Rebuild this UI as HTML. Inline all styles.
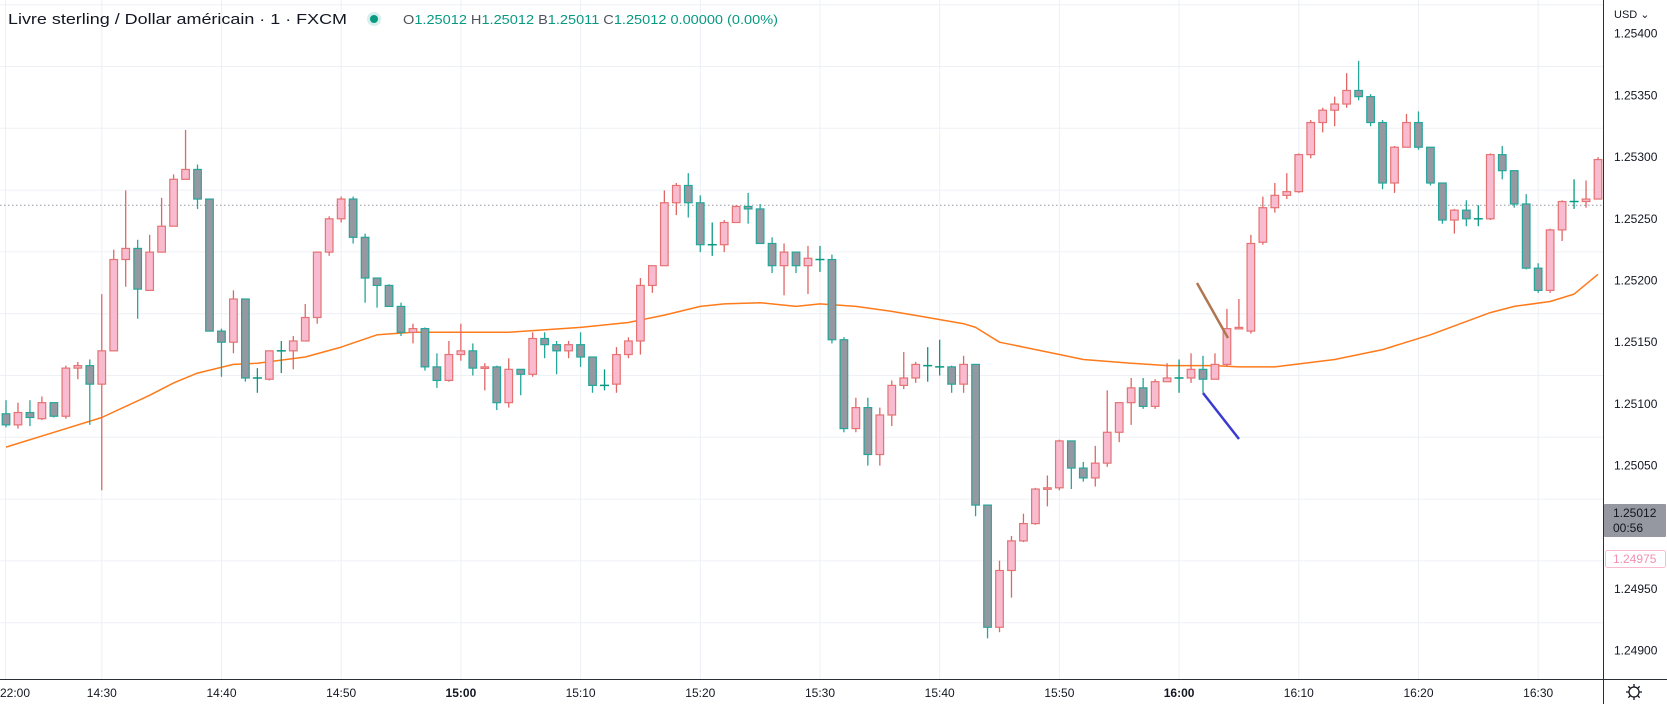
<!DOCTYPE html>
<html><head><meta charset="utf-8"><style>
html,body{margin:0;padding:0;background:#fff;}
body{width:1667px;height:704px;overflow:hidden;position:relative;font-family:"Liberation Sans",sans-serif;}
svg{position:absolute;left:0;top:0;}
</style></head><body>
<svg id="chart" width="1667" height="704" viewBox="0 0 1667 704" xmlns="http://www.w3.org/2000/svg">
  <g id="grid"></g>
  <line x1="0" x2="1603" y1="205.3" y2="205.3" stroke="#9598a1" stroke-width="1" stroke-dasharray="1.5,2.5"/>
  <g id="ma"></g>
  <g id="candles"></g>
  <line x1="1197" y1="283" x2="1228" y2="338" stroke="#b07650" stroke-width="2.5"/>
  <line x1="1203" y1="393" x2="1239" y2="439" stroke="#3a3ad0" stroke-width="2.5"/>
  <rect x="1604" y="0" width="63" height="679" fill="#fff"/>
  <line x1="1603.5" y1="0" x2="1603.5" y2="704" stroke="#2a2e39" stroke-width="1"/>
  <line x1="0" y1="679.5" x2="1667" y2="679.5" stroke="#2a2e39" stroke-width="1"/>
  <g id="yticks" font-family="Liberation Sans, sans-serif" font-size="12" fill="#131722"></g>
  <g id="xticks" font-family="Liberation Sans, sans-serif" font-size="12" fill="#131722"></g>
  <text x="1614" y="18" font-size="11" fill="#131722" font-family="Liberation Sans, sans-serif">USD ⌄</text>
  <rect x="1604" y="504" width="62" height="33" fill="#9598a1" rx="1"/>
  <text x="1613" y="517" font-size="12" fill="#131722" font-family="Liberation Sans, sans-serif">1.25012</text>
  <text x="1613" y="532" font-size="12" fill="#131722" font-family="Liberation Sans, sans-serif">00:56</text>
  <rect x="1605.5" y="550.5" width="60" height="17" fill="#fff" stroke="#f8bbd0" rx="2"/>
  <text x="1613" y="563" font-size="12" fill="#f48fb1" font-family="Liberation Sans, sans-serif">1.24975</text>
  <g transform="translate(1634,692)" fill="none" stroke="#131722" stroke-width="1.3">
    <circle r="5"/>
    <path d="M0,-8V-5M0,5V8M-8,0H-5M5,0H8M-5.7,-5.7L-3.5,-3.5M3.5,3.5L5.7,5.7M-5.7,5.7L-3.5,3.5M3.5,-3.5L5.7,-5.7"/>
  </g>
  <text x="8" y="24" font-size="15" fill="#131722" font-family="Liberation Sans, sans-serif" textLength="339" lengthAdjust="spacingAndGlyphs">Livre sterling / Dollar américain · 1 · FXCM</text>
  <circle cx="374" cy="19" r="7" fill="#d6efec"/>
  <circle cx="374" cy="19" r="4" fill="#089981"/>
  <text x="403" y="24" font-size="13" font-family="Liberation Sans, sans-serif" textLength="375" lengthAdjust="spacingAndGlyphs"><tspan fill="#50535e">O</tspan><tspan fill="#089981">1.25012 </tspan><tspan fill="#50535e">H</tspan><tspan fill="#089981">1.25012 </tspan><tspan fill="#50535e">B</tspan><tspan fill="#089981">1.25011 </tspan><tspan fill="#50535e">C</tspan><tspan fill="#089981">1.25012 0.00000 (0.00%)</tspan></text>
</svg>
<script>
const opens=[1.25092,1.25083,1.25093,1.25088,1.25101,1.25090,1.25129,1.25131,1.25116,1.25143,1.25217,1.25226,1.25192,1.25223,1.25244,1.25282,1.25290,1.25266,1.25159,1.25150,1.25185,1.25121,1.25120,1.25143,1.25143,1.25151,1.25170,1.25223,1.25250,1.25266,1.25235,1.25202,1.25196,1.25179,1.25158,1.25161,1.25130,1.25119,1.25140,1.25143,1.25129,1.25130,1.25101,1.25128,1.25124,1.25153,1.25148,1.25143,1.25148,1.25138,1.25115,1.25116,1.25140,1.25151,1.25196,1.25212,1.25263,1.25277,1.25263,1.25229,1.25229,1.25247,1.25260,1.25258,1.25230,1.25212,1.25223,1.25212,1.25217,1.25217,1.25152,1.25080,1.25097,1.25059,1.25091,1.25115,1.25121,1.25131,1.25130,1.25130,1.25116,1.25132,1.25018,1.24919,1.24965,1.24989,1.25003,1.25031,1.25032,1.25070,1.25048,1.25040,1.25052,1.25077,1.25101,1.25113,1.25098,1.25118,1.25121,1.25121,1.25128,1.25120,1.25132,1.25161,1.25159,1.25231,1.25259,1.25269,1.25272,1.25302,1.25328,1.25338,1.25343,1.25354,1.25349,1.25328,1.25279,1.25308,1.25328,1.25308,1.25279,1.25249,1.25257,1.25250,1.25250,1.25302,1.25289,1.25262,1.25210,1.25192,1.25241,1.25264,1.25264,1.25266];
const highs=[1.25103,1.25101,1.25103,1.25106,1.25101,1.25131,1.25134,1.25136,1.25189,1.25225,1.25273,1.25233,1.25237,1.25267,1.25286,1.25322,1.25294,1.25266,1.25161,1.25192,1.25185,1.25129,1.25143,1.25151,1.25155,1.25181,1.25223,1.25252,1.25268,1.25268,1.25238,1.25202,1.25197,1.25182,1.25165,1.25162,1.25141,1.25151,1.25165,1.25149,1.25133,1.25131,1.25137,1.25128,1.25158,1.25158,1.25151,1.25151,1.25158,1.25138,1.25128,1.25146,1.25154,1.25202,1.25212,1.25273,1.25279,1.25287,1.25269,1.25247,1.25249,1.25261,1.25271,1.25262,1.25235,1.25230,1.25223,1.25228,1.25228,1.25221,1.25154,1.25105,1.25105,1.25097,1.25119,1.25142,1.25134,1.25146,1.25152,1.25131,1.25139,1.25132,1.25018,1.24973,1.24993,1.25011,1.25032,1.25042,1.25071,1.25070,1.25053,1.25066,1.25111,1.25101,1.25121,1.25121,1.25120,1.25133,1.25136,1.25141,1.25139,1.25141,1.25177,1.25185,1.25237,1.25268,1.25279,1.25287,1.25303,1.25330,1.25340,1.25349,1.25368,1.25378,1.25351,1.25330,1.25309,1.25335,1.25337,1.25308,1.25279,1.25258,1.25265,1.25261,1.25303,1.25309,1.25289,1.25270,1.25214,1.25242,1.25265,1.25282,1.25281,1.25300];
const lows=[1.25081,1.25080,1.25082,1.25087,1.25089,1.25088,1.25120,1.25083,1.25030,1.25143,1.25195,1.25169,1.25192,1.25223,1.25244,1.25282,1.25258,1.25159,1.25122,1.25141,1.25118,1.25109,1.25119,1.25125,1.25128,1.25151,1.25165,1.25220,1.25247,1.25230,1.25182,1.25178,1.25179,1.25155,1.25149,1.25127,1.25113,1.25118,1.25135,1.25123,1.25111,1.25095,1.25097,1.25107,1.25122,1.25137,1.25124,1.25137,1.25130,1.25109,1.25111,1.25109,1.25137,1.25140,1.25190,1.25212,1.25253,1.25251,1.25223,1.25220,1.25223,1.25247,1.25246,1.25230,1.25206,1.25188,1.25206,1.25189,1.25207,1.25149,1.25077,1.25077,1.25050,1.25050,1.25082,1.25112,1.25117,1.25118,1.25123,1.25109,1.25109,1.25009,1.24910,1.24915,1.24943,1.24988,1.25002,1.25017,1.25030,1.25031,1.25037,1.25033,1.25049,1.25069,1.25083,1.25096,1.25096,1.25118,1.25109,1.25117,1.25109,1.25120,1.25130,1.25161,1.25157,1.25229,1.25255,1.25266,1.25271,1.25299,1.25320,1.25325,1.25340,1.25346,1.25325,1.25274,1.25271,1.25317,1.25306,1.25277,1.25246,1.25238,1.25244,1.25244,1.25249,1.25282,1.25259,1.25209,1.25190,1.25190,1.25232,1.25258,1.25259,1.25266];
const closes=[1.25083,1.25093,1.25089,1.25101,1.25090,1.25129,1.25131,1.25116,1.25143,1.25217,1.25226,1.25193,1.25223,1.25244,1.25282,1.25290,1.25266,1.25159,1.25150,1.25185,1.25121,1.25121,1.25143,1.25143,1.25151,1.25170,1.25223,1.25250,1.25266,1.25235,1.25202,1.25196,1.25179,1.25158,1.25161,1.25130,1.25119,1.25140,1.25143,1.25129,1.25130,1.25101,1.25128,1.25124,1.25153,1.25148,1.25143,1.25148,1.25138,1.25115,1.25115,1.25140,1.25151,1.25196,1.25212,1.25263,1.25277,1.25263,1.25229,1.25229,1.25247,1.25260,1.25258,1.25230,1.25212,1.25223,1.25212,1.25218,1.25217,1.25152,1.25080,1.25097,1.25059,1.25091,1.25115,1.25121,1.25132,1.25131,1.25130,1.25116,1.25132,1.25018,1.24919,1.24965,1.24989,1.25003,1.25031,1.25032,1.25070,1.25048,1.25040,1.25052,1.25077,1.25101,1.25113,1.25098,1.25118,1.25121,1.25121,1.25128,1.25120,1.25132,1.25161,1.25162,1.25230,1.25259,1.25269,1.25272,1.25302,1.25328,1.25338,1.25343,1.25354,1.25349,1.25328,1.25279,1.25308,1.25328,1.25308,1.25279,1.25249,1.25257,1.25250,1.25250,1.25302,1.25289,1.25262,1.25210,1.25192,1.25241,1.25264,1.25264,1.25266,1.25298];
const maIndex=[0,4,8,12,14,16,19,21,25,28,31,34,38,42,48,52,55,58,60,63,66,68,71,74,77,80,81,83,85,88,90,94,97,101,103,106,111,115,119,124,126,129,131,133];
const maValues=[1.25065,1.25077,1.25089,1.25107,1.25117,1.25125,1.25132,1.25133,1.25138,1.25146,1.25156,1.25158,1.25158,1.25158,1.25162,1.25166,1.25172,1.25179,1.25181,1.25182,1.25179,1.25181,1.25179,1.25175,1.25170,1.25165,1.25162,1.25150,1.25146,1.25140,1.25136,1.25133,1.25131,1.25131,1.25130,1.25130,1.25136,1.25144,1.25156,1.25174,1.25179,1.25183,1.25189,1.25205];
const priceTicks=[1.25400,1.25350,1.25300,1.25250,1.25200,1.25150,1.25100,1.25050,1.24950,1.24900];
const timeTicks=["22:00","14:30","14:40","14:50","15:00","15:10","15:20","15:30","15:40","15:50","16:00","16:10","16:20","16:30"];
const timeTickMinutes=[-8,0,10,20,30,40,50,60,70,80,90,100,110,120];
const boldTicks=["15:00","16:00"];

const NS="http://www.w3.org/2000/svg";
const yScale=p=>33.7+(1.254-p)/0.0005*61.7;
const xScale=i=>6+11.97*i;          // candle index -> x
const xMin=m=>101.8+11.97*m;         // minutes from 14:30 -> x
function mk(tag,attrs,parent){const e=document.createElementNS(NS,tag);for(const k in attrs)e.setAttribute(k,attrs[k]);parent.appendChild(e);return e;}

const grid=document.getElementById('grid');
for(let k=0;k<11;k++){
  const y=4.7+61.8*k;
  const l=mk('line',{x1:0,x2:1603,y1:y,y2:y,stroke:'#edf0f5','stroke-width':1},grid);
  
  
}
timeTickMinutes.forEach((m,i)=>{
  const x=i===0?5.5:xMin(m);
  const l=mk('line',{x1:x,x2:x,y1:0,y2:679,stroke:'#edf0f5','stroke-width':1},grid);
  
  
});

const yt=document.getElementById('yticks');
priceTicks.forEach(p=>{
  const t=mk('text',{x:1614,y:yScale(p)+4},yt);
  t.textContent=p.toFixed(5);
  
  
});
const xt=document.getElementById('xticks');
timeTicks.forEach((lab,i)=>{
  const x=i===0?15:xMin(timeTickMinutes[i]);
  const t=mk('text',{x:x,y:697,'text-anchor':'middle'},xt);
  if(boldTicks.includes(lab))t.setAttribute('font-weight','bold');
  t.textContent=lab;
  
  
});

const cg=document.getElementById('candles');
for(let i=0;i<opens.length;i++){
  const o=opens[i],c=closes[i],h=highs[i],l=lows[i];
  const x=xScale(i);
  const up=c>o, doji=Math.abs(c-o)<0.000005;
  const wickCol=doji?'#089981':(up?'#e06666':'#26a69a');
  const g=mk('g',{},cg);
  
  
  mk('line',{x1:x,x2:x,y1:yScale(h),y2:yScale(l),stroke:wickCol,'stroke-width':1.3},g);
  if(doji){
    mk('line',{x1:x-4.5,x2:x+4.5,y1:yScale(o),y2:yScale(o),stroke:'#089981','stroke-width':1.5},g);
  }else{
    const top=yScale(Math.max(o,c)),bot=yScale(Math.min(o,c));
    mk('rect',{x:x-3.8,y:top,width:7.6,height:Math.max(bot-top,1.5),fill:up?'#f8bbd0':'#9598a1',stroke:up?'#e57373':'#26a69a','stroke-width':1.2},g);
  }
}

const mg=document.getElementById('ma');
let d='';
maIndex.forEach((ix,k)=>{d+=(k?'L':'M')+xScale(ix).toFixed(1)+','+yScale(maValues[k]).toFixed(1);});
const path=mk('path',{d:d,fill:'none',stroke:'#ff7a1a','stroke-width':1.5,'stroke-linejoin':'round'},mg);


</script>
</body></html>
